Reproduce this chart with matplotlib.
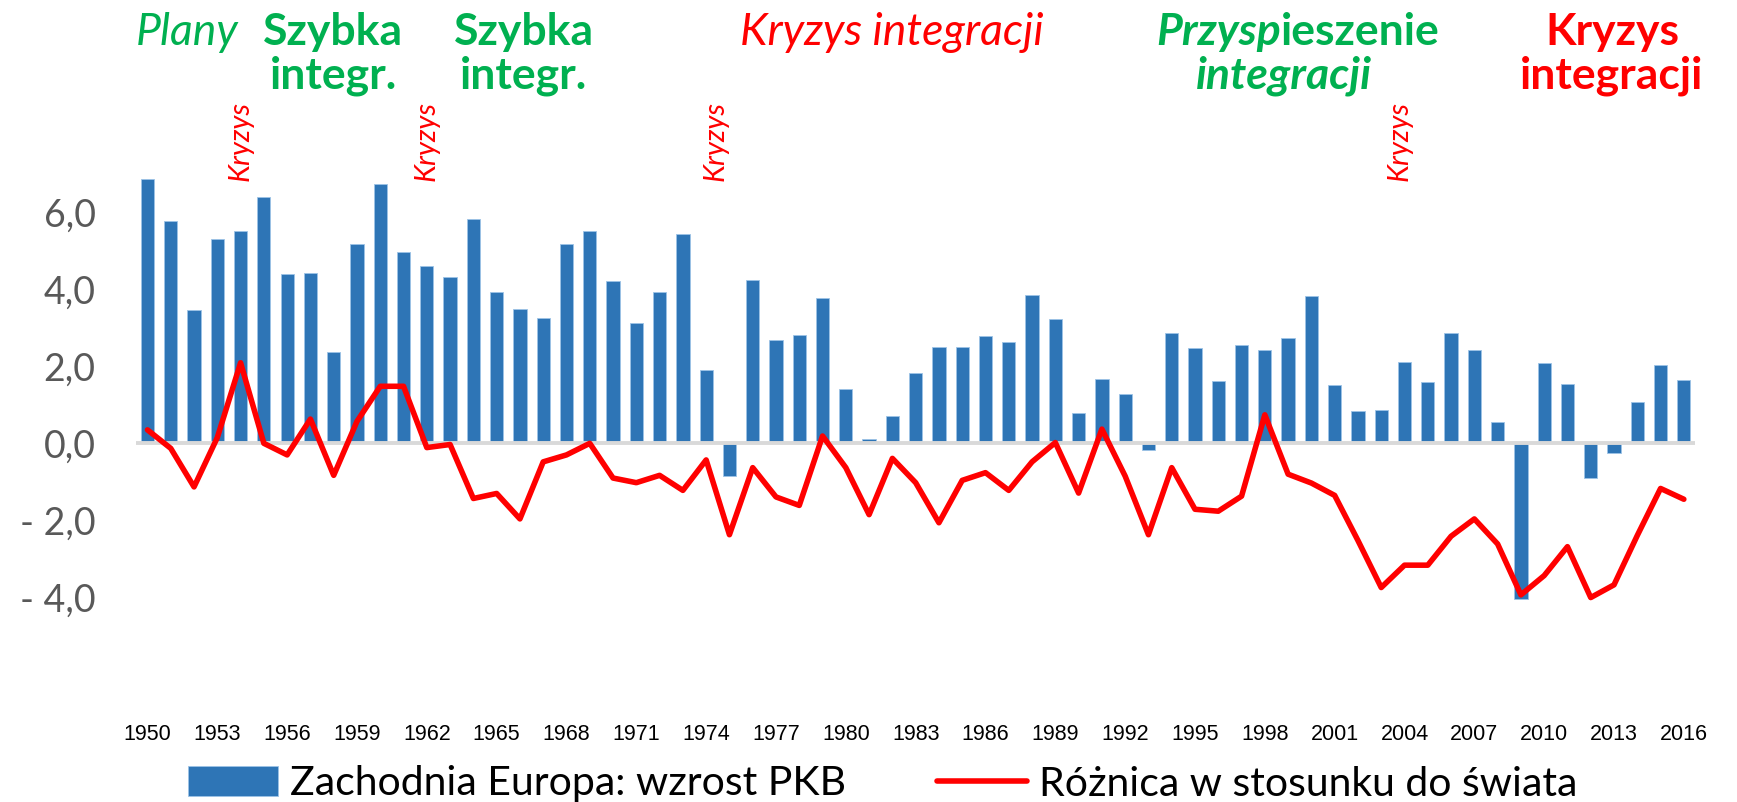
import matplotlib.pyplot as plt
import matplotlib.transforms as mtransforms
import numpy as np

years = list(range(1950, 2017))

# Zachodnia Europa: wzrost PKB (%)
gdp_growth = [6.85, 5.77, 3.45, 5.30, 5.50, 6.39, 4.40, 4.43, 2.37, 5.17,
              6.72, 4.96, 4.61, 4.31, 5.83, 3.93, 3.49, 3.24, 5.18, 5.50,
              4.20, 3.11, 3.93, 5.43, 1.90, -0.84, 4.23, 2.67, 2.80, 3.78,
              1.41, 0.11, 0.71, 1.83, 2.49, 2.49, 2.78, 2.62, 3.84, 3.22,
              0.79, 1.67, 1.27, -0.17, 2.87, 2.47, 1.63, 2.55, 2.43, 2.74,
              3.82, 1.52, 0.84, 0.87, 2.11, 1.60, 2.85, 2.43, 0.56, -4.03,
              2.09, 1.54, -0.90, -0.26, 1.06, 2.02, 1.64]

# Różnica w stosunku do świata
diff_world = [0.35, -0.13, -1.13, 0.15, 2.09, 0.00, -0.30, 0.63, -0.83, 0.57,
              1.48, 1.48, -0.11, -0.03, -1.43, -1.30, -1.96, -0.48, -0.30, 0.00,
              -0.90, -1.02, -0.83, -1.22, -0.43, -2.37, -0.63, -1.39, -1.61, 0.19,
              -0.63, -1.85, -0.39, -1.02, -2.06, -0.96, -0.76, -1.22, -0.48, 0.02,
              -1.29, 0.37, -0.85, -2.37, -0.63, -1.71, -1.76, -1.37, 0.74, -0.80,
              -1.03, -1.35, -2.52, -3.74, -3.16, -3.16, -2.41, -1.96, -2.61, -3.93,
              -3.43, -2.68, -4.00, -3.67, -2.39, -1.17, -1.45]

crisis_pos = [4, 12, 24.4, 53.8]
yticks = [-4, -2, 0, 2, 4, 6]

GREEN = '#00B050'
RED = '#FF0000'
BLUE = '#2E75B6'
plt.rcParams['font.family'] = ['Lato', 'DejaVu Sans']

fig = plt.figure(figsize=(17.37, 8.02), dpi=100)
ax = fig.add_axes([0.0782, 0.1107, 0.8979, 0.673])

x = np.arange(len(years))
bars = ax.bar(x, gdp_growth, width=0.57, color=BLUE, edgecolor='#9DC3E6',
              linewidth=0.6, zorder=2, label='Zachodnia Europa: wzrost PKB')
ax.axhline(0, color='#D9D9D9', lw=2.8, zorder=3)
line, = ax.plot(x, diff_world, color=RED, lw=4.0, zorder=4,
                solid_joinstyle='round', solid_capstyle='round',
                label='Różnica w stosunku do świata')

ax.set_xlim(-0.5, len(years) - 0.5)
ax.set_ylim(-7, 7)
for s in ax.spines.values():
    s.set_visible(False)

def fmt(v):
    return ('- ' if v < 0 else '') + f'{abs(v):.1f}'.replace('.', ',')

ax.set_yticks(yticks)
ax.set_yticklabels([fmt(v) for v in yticks], fontsize=27, color='#595959')
ax.tick_params(axis='y', length=0, pad=29)

ax.set_xticks(x[::3])
ax.set_xticklabels([str(y) for y in years[::3]], fontsize=15.5, color='black',
                   family=['Liberation Sans Narrow', 'Liberation Sans', 'DejaVu Sans'])
ax.tick_params(axis='x', length=0, pad=8)

# legend
fig.legend(handles=[bars, line], loc='center left', bbox_to_anchor=(188 / 1737, 1 - 784 / 802),
           ncol=2, frameon=False, fontsize=29.5, borderpad=0, borderaxespad=0,
           handlelength=2.2, handleheight=0.75, handletextpad=0.3, columnspacing=2.2)

# period headers
def fy(px):
    return 1 - px / 802

def fx(px):
    return px / 1737

HS = 32
fig.text(fx(136), fy(45), 'Plany', color=GREEN, fontsize=HS, style='italic', va='baseline')
for cx in (333, 524):
    fig.text(fx(cx), fy(45), 'Szybka', color=GREEN, fontsize=HS, weight='bold', ha='center', va='baseline')
    fig.text(fx(cx), fy(88), 'integr.', color=GREEN, fontsize=HS, weight='bold', ha='center', va='baseline')
fig.text(fx(892), fy(45), 'Kryzys integracji', color=RED, fontsize=HS, style='italic', ha='center', va='baseline')

t1 = fig.text(fx(1156), fy(45), 'Przysp', color=GREEN, fontsize=HS, weight='bold', style='italic', va='baseline')
r = fig.canvas.get_renderer()
bb = t1.get_window_extent(renderer=r)
fig.text(bb.x1 / fig.bbox.width, fy(45), 'ieszenie', color=GREEN, fontsize=HS, weight='bold', va='baseline')
fig.text(fx(1284), fy(88), 'integracji', color=GREEN, fontsize=HS, weight='bold', style='italic', ha='center', va='baseline')

fig.text(fx(1612), fy(45), 'Kryzys', color=RED, fontsize=HS, weight='bold', ha='center', va='baseline')
fig.text(fx(1612), fy(88), 'integracji', color=RED, fontsize=HS, weight='bold', ha='center', va='baseline')

trans = mtransforms.blended_transform_factory(ax.transData, fig.transFigure)
for p in crisis_pos:
    ax.text(p, fy(141), 'Kryzys', color=RED, fontsize=21, style='italic', rotation=90,
            ha='center', va='center', transform=trans, clip_on=False)

fig.savefig('out.png', dpi=100)
